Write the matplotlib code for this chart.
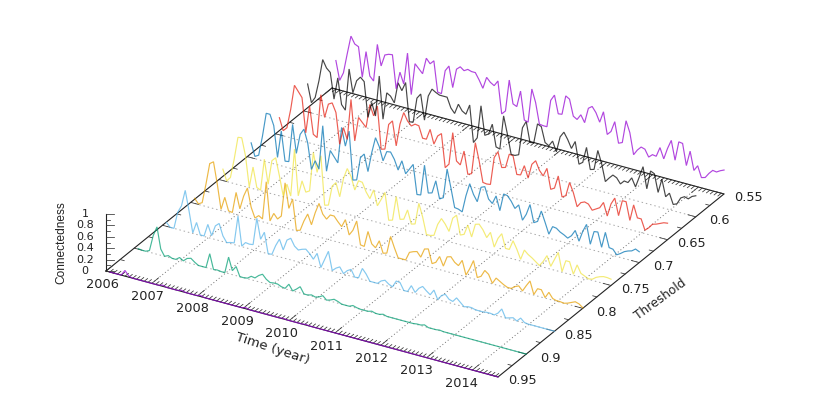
import matplotlib
matplotlib.use("Agg")
import matplotlib.pyplot as plt
import numpy as np
from matplotlib.transforms import Affine2D

# monthly-ish samples, 104 per threshold
t_start = 2006.085
t_end = 2014.56
n_samples = 104

years = [2006, 2007, 2008, 2009, 2010, 2011, 2012, 2013, 2014]
thresholds = [0.95, 0.9, 0.85, 0.8, 0.75, 0.7, 0.65, 0.6, 0.55]
threshold_labels = ["0.95", "0.9", "0.85", "0.8", "0.75", "0.7", "0.65", "0.6", "0.55"]
z_ticks = [0, 0.2, 0.4, 0.6, 0.8, 1]
z_labels = ["0", "0.2", "0.4", "0.6", "0.8", "1"]
colors = ["#9400D3", "#009E73", "#56B4E9", "#E69F00", "#F0E442",
          "#0072B2", "#E51E10", "#000000", "#9400D3"]

c095 = [0, 0, 0, 0, .10, .02, 0, 0, 0, 0,
        0, 0, 0, 0, .02, 0, 0, 0, 0, .02,
        0, 0, 0, 0, .02, 0, 0, 0, 0, 0,
        0, 0, 0, 0, 0, 0, .02, 0, 0, 0,
        0, 0, 0, 0, 0, 0, .01, 0, 0, 0,
        0, 0, .01, 0, 0, 0, 0, 0, 0, 0,
        0, 0, 0, 0, 0, 0, 0, 0, 0, 0,
        0, 0, 0, 0, 0, 0, 0, 0, 0, 0,
        0, 0, 0, 0, 0, 0, 0, 0, 0, 0,
        0, 0, 0, 0, 0, 0, 0, 0, 0, 0,
        0, 0, 0, 0]
c090 = [.01, 0, 0, .03, .31, .48, .11, 0, .03, 0,
        0, .05, .01, .07, .09, .04, 0, 0, 0, .26,
        0, .01, 0, 0, .29, .07, .16, 0, 0, .01,
        .06, .05, .11, .15, .08, .04, .05, .05, .02, .01,
        .10, 0, .05, .11, 0, 0, .02, 0, .02, .06,
        0, .02, .05, .03, 0, 0, 0, .03, .01, 0,
        0, 0, .02, 0, 0, .02, 0, 0, 0, 0,
        0, 0, 0, 0, .01, .01, .03, 0, 0, 0,
        .01, 0, 0, 0, 0, 0, 0, 0, 0, 0,
        0, 0, 0, 0, 0, 0, 0, 0, 0, 0,
        0, 0, 0, 0]
c085 = [.07, 0, 0, .30, .43, .72, .38, .01, .21, .01,
        .01, .23, .05, .24, .30, .10, 0, .02, .03, .52,
        .01, .09, .08, .09, .57, .22, .36, 0, .01, .18,
        .31, .14, .33, .38, .26, .21, .24, .26, .20, .12,
        .24, .01, .17, .33, .01, .07, .11, .01, .08, .12,
        0, .01, .19, .11, 0, 0, 0, .06, .09, .04,
        .01, .13, .12, 0, 0, .12, .02, .11, .16, .10,
        .05, .15, 0, .09, .13, .06, .04, .12, .06, 0,
        .02, .02, 0, 0, 0, .01, .01, 0, .05, .14,
        0, .02, .04, 0, .07, .01, 0, 0, 0, 0,
        0, 0, 0, 0]
c080 = [.09, .01, .05, .39, .77, .82, .45, .02, .25, .03,
        .02, .39, .12, .36, .52, .20, .03, .09, .05, .72,
        .05, .20, .12, .19, .79, .36, .54, .01, .03, .21,
        .35, .18, .41, .59, .42, .35, .44, .44, .36, .29,
        .43, .18, .28, .46, .06, .05, .33, .13, .08, .22,
        .02, .04, .35, .17, .01, .01, .01, .16, .19, .21,
        .13, .29, .31, .07, .11, .23, .08, .26, .28, .20,
        .16, .27, .03, .16, .32, .04, .08, .20, .15, .01,
        .12, .08, .04, .01, .01, .06, .09, .02, .13, .23,
        .01, .13, .13, .01, .12, .03, .01, .01, 0, .02,
        .05, .08, .06, .01]
c075 = [.20, .01, .09, .43, .83, .84, .54, .01, .38, .04,
        .01, .57, .15, .58, .65, .35, .02, .24, .05, .89,
        .09, .37, .19, .23, .92, .59, .90, .05, .07, .42,
        .50, .27, .61, .80, .68, .46, .64, .63, .48, .38,
        .55, .29, .42, .56, .09, .11, .54, .16, .18, .36,
        .13, .15, .53, .31, .02, .02, .04, .25, .37, .29,
        .18, .43, .50, .17, .20, .38, .19, .43, .45, .37,
        .25, .36, .12, .29, .39, .15, .15, .32, .19, .03,
        .21, .15, .11, .06, .01, .10, .22, .05, .19, .33,
        .01, .22, .22, .02, .20, .07, .04, .01, .02, .07,
        .10, .12, .12, .11]
c070 = [.26, .04, .08, .43, .85, .85, .67, .13, .61, .10,
        .11, .78, .29, .64, .75, .53, .08, .25, .12, .90,
        .12, .50, .41, .32, .96, .65, .93, .09, .11, .52,
        .60, .31, .66, .94, .80, .57, .75, .76, .65, .48,
        .66, .45, .55, .65, .14, .15, .69, .22, .24, .47,
        .17, .21, .73, .42, .09, .08, .05, .35, .58, .41,
        .30, .57, .60, .40, .34, .49, .25, .56, .55, .47,
        .36, .44, .19, .31, .50, .20, .24, .44, .26, .07,
        .22, .21, .16, .13, .09, .15, .26, .09, .28, .42,
        .09, .33, .34, .09, .37, .12, .11, .03, .07, .12,
        .15, .17, .22, .19]
c065 = [.30, .09, .16, .50, .94, .85, .76, .16, .65, .17,
        .13, .90, .52, .77, .81, .66, .12, .43, .24, .96,
        .25, .68, .61, .54, .96, .78, .97, .23, .25, .70,
        .78, .36, .76, .98, .85, .78, .83, .82, .62, .62,
        .81, .57, .73, .79, .21, .29, .86, .38, .33, .59,
        .20, .23, .79, .49, .13, .12, .13, .62, .74, .48,
        .50, .75, .74, .43, .44, .62, .42, .68, .76, .61,
        .53, .68, .33, .37, .60, .25, .29, .54, .38, .15,
        .24, .27, .25, .16, .20, .24, .35, .13, .36, .48,
        .19, .47, .47, .16, .45, .24, .24, .06, .12, .20,
        .22, .25, .28, .29]
c060 = [.49, .18, .29, .60, .99, .86, .80, .35, .74, .29,
        .21, .95, .55, .78, .86, .80, .19, .47, .25, .97,
        .23, .71, .67, .57, .94, .82, .98, .31, .32, .76,
        .85, .41, .85, .99, .95, .92, .92, .92, .75, .67,
        .85, .75, .71, .89, .25, .35, .93, .43, .47, .66,
        .28, .26, .86, .56, .22, .22, .25, .74, .87, .52,
        .53, .88, .85, .59, .55, .65, .48, .76, .86, .75,
        .61, .75, .37, .42, .70, .33, .35, .70, .49, .19,
        .27, .34, .31, .22, .29, .28, .38, .24, .43, .63,
        .26, .59, .56, .25, .50, .21, .29, .11, .14, .26,
        .30, .28, .34, .37]
c055 = [.50, .17, .32, .67, 1.0, .88, .85, .33, .80, .39,
        .32, .98, .62, .83, .86, .87, .29, .60, .41, .97,
        .26, .82, .75, .68, .97, .89, .96, .43, .42, .84,
        .94, .58, .92, .98, .93, .97, .95, .95, .84, .71,
        .92, .85, .81, .91, .35, .42, .98, .58, .55, .84,
        .35, .33, .93, .71, .35, .34, .34, .82, .93, .62,
        .63, .97, .93, .65, .61, .71, .59, .86, .91, .82,
        .67, .87, .49, .56, .75, .39, .42, .82, .63, .26,
        .36, .43, .41, .29, .35, .34, .51, .33, .53, .69,
        .36, .70, .69, .32, .59, .27, .37, .18, .20, .29,
        .36, .35, .39, .42]
series = [c095, c090, c085, c080, c075, c070, c065, c060, c055]

plt.rcParams["font.family"] = "DejaVu Sans"

times = np.linspace(t_start, t_end, n_samples)

fig = plt.figure(figsize=(8.3, 4.15), dpi=100)
ax = fig.add_axes([0, 0, 1, 1])
ax.set_xlim(0, 830)
ax.set_ylim(415, 0)
ax.axis("off")

# gnuplot-style view: one year, one unit of threshold and one unit of z in pixels
year_px = (45.8, 12.38)
thr_px = (-565.0, 457.5)
z_px = -57.0
origin = (106.0, 271.0)
t_min = 2006.0
t_max = 2006 + 392 / 45.8
thr_front = 0.95
thr_back = 0.55

floor = Affine2D(np.array([
    [year_px[0], thr_px[0], origin[0] - year_px[0] * t_min - thr_px[0] * thr_front],
    [year_px[1], thr_px[1], origin[1] - year_px[1] * t_min - thr_px[1] * thr_front],
    [0, 0, 1]])) + ax.transData


def wall(thr):
    """Transform for (time, z) in the plane of one threshold."""
    ox = origin[0] - year_px[0] * t_min + thr_px[0] * (thr - thr_front)
    oy = origin[1] - year_px[1] * t_min + thr_px[1] * (thr - thr_front)
    return Affine2D(np.array([[year_px[0], 0, ox],
                              [year_px[1], z_px, oy],
                              [0, 0, 1]])) + ax.transData


# grid
for yr in years[1:]:
    ax.plot([yr, yr], [thr_front, thr_back], transform=floor, color="#707070",
            lw=0.7, ls=(0, (1, 2.5)), zorder=1)
for thr in thresholds[1:-1]:
    ax.plot([t_min, t_max], [thr, thr], transform=floor, color="#a8a8a8",
            lw=0.7, ls=(0, (1.5, 3)), zorder=1)

# border
ax.plot([t_min, t_max, t_max, t_min, t_min],
        [thr_front, thr_front, thr_back, thr_back, thr_front],
        transform=floor, color="#222222", lw=0.8, zorder=2)

# time ticks, front and back
for k in range(0, 103):
    tk = t_min + k / 12
    if tk > t_max:
        break
    d = 0.012 if k % 12 == 0 else 0.006
    ax.plot([tk, tk], [thr_front, thr_front - d], transform=floor, color="#333333", lw=0.55, zorder=2)
    ax.plot([tk, tk], [thr_back, thr_back + d], transform=floor, color="#333333", lw=0.55, zorder=2)

# threshold ticks, left and right
for k in range(0, 17):
    thr = thr_back + k * 0.025
    d = 0.17 if k % 2 == 0 else 0.09
    ax.plot([t_min, t_min + d], [thr, thr], transform=floor, color="#333333", lw=0.55, zorder=2)
    ax.plot([t_max, t_max - d], [thr, thr], transform=floor, color="#333333", lw=0.55, zorder=2)

# z axis, ticks stay level on screen
z_wall = wall(thr_front)
ax.plot([t_min, t_min], [0, 1], transform=z_wall, color="#222222", lw=0.8, zorder=2)
for k in range(0, 11):
    zv = k / 10
    d = 0.17 if k % 2 == 0 else 0.09
    ax.plot([t_min, t_min + d], [zv, zv + year_px[1] * d / -z_px],
            transform=z_wall, color="#333333", lw=0.55, zorder=2)

# the series, front to back
for thr, values, col in zip(thresholds, series, colors):
    ax.plot(times, values, transform=wall(thr), color=col, lw=0.85, zorder=3,
            solid_joinstyle="miter", alpha=0.72)

# tick labels
for k, yr in enumerate(years):
    ax.annotate(str(yr), (yr, thr_front), xycoords=floor,
                xytext=(-2.4 - 0.7 * k, -9.5), textcoords="offset points",
                ha="center", va="center", fontsize=9.3, color="#222222")
for thr, lab in zip(thresholds, threshold_labels):
    ax.annotate(lab, (t_max, thr), xycoords=floor,
                xytext=(17.3, -2.9), textcoords="offset points",
                ha="center", va="center", fontsize=9.3, color="#222222")
for zv, lab in zip(z_ticks, z_labels):
    ax.annotate(lab, (t_min, zv), xycoords=z_wall,
                xytext=(-15, 0), textcoords="offset points",
                ha="center", va="center", fontsize=8, color="#222222")

# axis titles
ax.text(273, 349, "Time (year)", rotation=-18, ha="center", va="center",
        rotation_mode="anchor", fontsize=9.5, color="#222222")
ax.text(660, 299, "Threshold", rotation=36, ha="center", va="center",
        rotation_mode="anchor", fontsize=8.8, color="#222222")
ax.text(61, 243, "Connectedness", rotation=90, ha="center", va="center",
        rotation_mode="anchor", fontsize=8.6, color="#222222",
        family="Liberation Sans")

fig.savefig("out.png", dpi=100)
